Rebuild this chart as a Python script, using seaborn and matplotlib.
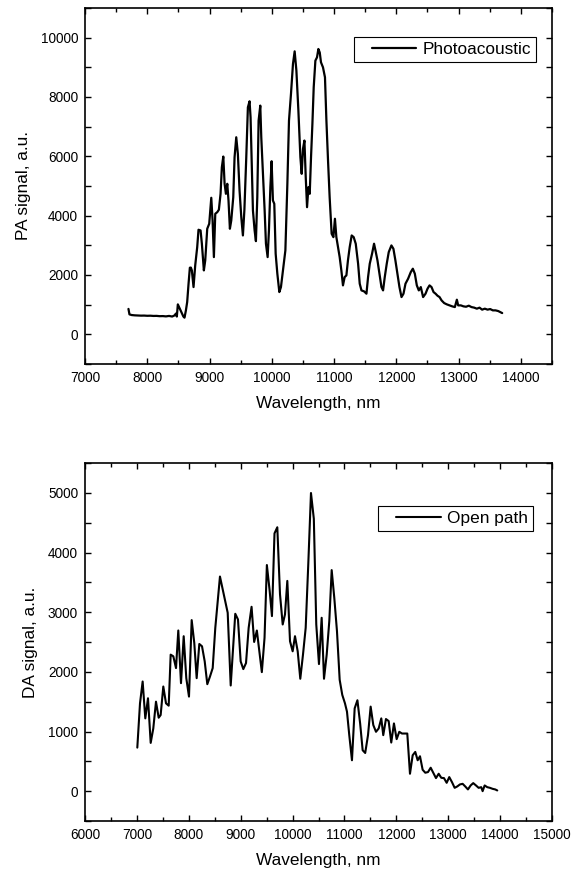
import numpy as np
import pandas as pd
import matplotlib
matplotlib.use("Agg")
import matplotlib.pyplot as plt
import seaborn as sns
from matplotlib.ticker import MultipleLocator
from matplotlib.legend_handler import HandlerLine2D
from matplotlib.lines import Line2D

# ---------------- data ----------------
pa_wavelength = [7698, 7714, 7750, 7800, 7850, 7900, 7950, 8000, 8050, 8100, 8150, 8200, 8250, 8300,
                 8350, 8400, 8440, 8460, 8475, 8491, 8515, 8534, 8560, 8580, 8598, 8620, 8641, 8663,
                 8684, 8700, 8716, 8743, 8770, 8802, 8823, 8856, 8877, 8909, 8931, 8963, 8995, 9028,
                 9049, 9070, 9092, 9124, 9150, 9177, 9198, 9221, 9242, 9263, 9285, 9305, 9327, 9349,
                 9381, 9402, 9429, 9455, 9482, 9510, 9536, 9560, 9590, 9616, 9643, 9659, 9675, 9697,
                 9724, 9745, 9767, 9788, 9815, 9831, 9858, 9885, 9906, 9933, 9954, 9977, 9997, 10018,
                 10040, 10062, 10089, 10121, 10147, 10179, 10218, 10250, 10276, 10308, 10340, 10367,
                 10395, 10427, 10459, 10480, 10501, 10524, 10545, 10566, 10588, 10609, 10630, 10652,
                 10673, 10700, 10726, 10748, 10770, 10790, 10822, 10854, 10877, 10903, 10929, 10961,
                 10989, 11014, 11037, 11063, 11090, 11117, 11143, 11170, 11198, 11223, 11251, 11283,
                 11315, 11348, 11386, 11412, 11440, 11482, 11520, 11546, 11573, 11610, 11642, 11665,
                 11697, 11729, 11761, 11787, 11814, 11846, 11878, 11921, 11953, 11985, 12018, 12050,
                 12083, 12115, 12147, 12189, 12232, 12265, 12297, 12329, 12361, 12393, 12430, 12469,
                 12501, 12533, 12565, 12598, 12630, 12662, 12694, 12726, 12768, 12811, 12855, 12897,
                 12940, 12972, 12993, 13036, 13079, 13120, 13164, 13207, 13250, 13293, 13336, 13378,
                 13421, 13465, 13507, 13550, 13593, 13636, 13668, 13700]
pa_signal = [857, 673, 650, 640, 635, 630, 632, 625, 628, 620, 622, 612, 615, 605,
             620, 600, 640, 700, 600, 1010, 900, 808, 700, 600, 562, 800, 1088, 1707,
             2246, 2250, 2155, 1593, 2323, 2939, 3525, 3502, 3054, 2155, 2492, 3559, 3727, 4603,
             3838, 2603, 4064, 4118, 4200, 4737, 5633, 5993, 5074, 4737, 5074, 4500, 3559, 3838,
             4623, 5970, 6643, 6084, 4848, 3949, 3333, 4200, 5970, 7653, 7855, 7316, 5970, 4175,
             3502, 3141, 4623, 7205, 7710, 6643, 5410, 4175, 3054, 2603, 3502, 4960, 5835, 4512,
             4400, 2717, 2044, 1424, 1593, 2155, 2828, 5074, 7205, 8104, 9114, 9539,
             8889, 7542, 5970, 5410, 6252, 6532, 5297, 4286, 4960, 4737, 5970, 7094,
             8327, 9226, 9337, 9619, 9500, 9169, 9000, 8664, 7205, 5859, 4623, 3390,
             3276, 3896, 3276, 2939, 2603, 2155, 1650, 1929, 1987, 2492, 2939, 3333,
             3276, 3054, 2380, 1707, 1481, 1448, 1370, 1929, 2380, 2717, 3054, 2828,
             2492, 2044, 1593, 1481, 1929, 2380, 2771, 2997, 2885, 2492, 2044, 1593,
             1256, 1370, 1707, 1875, 2098, 2212, 2044, 1650, 1481, 1593, 1256, 1370,
             1539, 1650, 1593, 1424, 1370, 1300, 1256, 1145, 1054, 1010, 976, 943,
             919, 1168, 976, 976, 943, 930, 966, 919, 900, 865, 899, 832,
             865, 832, 852, 808, 808, 785, 751, 717]

da_wavelength = [7008, 7060, 7111, 7162, 7214, 7266, 7316, 7368, 7420, 7458, 7509, 7561, 7613, 7651,
                 7702, 7754, 7798, 7850, 7902, 7952, 8004, 8056, 8106, 8152, 8203, 8255, 8307, 8357,
                 8409, 8461, 8511, 8601, 8750, 8808, 8896, 8948, 9000, 9051, 9103, 9154, 9210, 9260,
                 9312, 9359, 9408, 9460, 9505, 9559, 9603, 9652, 9706, 9758, 9810, 9854, 9899, 9951,
                 10002, 10047, 10099, 10149, 10201, 10253, 10303, 10355, 10410, 10457, 10509, 10561,
                 10606, 10658, 10708, 10754, 10804, 10856, 10908, 10958, 11010, 11049, 11093, 11145,
                 11197, 11250, 11303, 11351, 11400, 11454, 11505, 11556, 11608, 11660, 11710, 11748,
                 11800, 11852, 11902, 11954, 12006, 12057, 12109, 12161, 12211, 12263, 12315, 12365,
                 12411, 12456, 12507, 12558, 12610, 12662, 12712, 12764, 12816, 12866, 12918, 12970,
                 13020, 13072, 13124, 13174, 13226, 13278, 13328, 13380, 13432, 13482, 13535, 13586,
                 13636, 13663, 13702, 13752, 13804, 13856, 13906, 13945]
da_signal = [730, 1472, 1838, 1220, 1557, 809, 1051, 1500, 1231, 1276, 1754, 1472, 1433, 2288,
             2260, 2063, 2693, 1810, 2597, 1894, 1585, 2867, 2484, 1894, 2467, 2428, 2175, 1793,
             1922, 2063, 2737, 3597, 2990, 1771, 2973, 2878, 2175, 2046, 2147, 2737, 3090, 2501,
             2693, 2344, 1995, 2570, 3790, 3356, 2934, 4320, 4423, 3300, 2794, 2962, 3524, 2513,
             2344, 2597, 2344, 1884, 2288, 2737, 3806, 4997, 4565, 2794, 2130, 2906,
             1884, 2288, 2850, 3705, 3243, 2681, 1867, 1614, 1472, 1332, 939, 518,
             1388, 1524, 1130, 686, 640, 939, 1417, 1108, 995, 1051, 1220, 939,
             1209, 1175, 815, 1135, 872, 995, 966, 966, 966, 292, 602, 658,
             518, 585, 359, 309, 320, 393, 309, 219, 292, 224, 219, 140,
             236, 152, 56, 79, 113, 123, 79, 29, 96, 135, 96, 56,
             67, 0, 96, 67, 56, 39, 29, 12]

pa_label = "Photoacoustic"
da_label = "Open path"
x_label = "Wavelength, nm"
pa_ylabel = "PA signal, a.u."
da_ylabel = "DA signal, a.u."

# ---------------- style ----------------
sns.set_theme(style="ticks")
plt.rcParams["font.family"] = ["Liberation Sans", "DejaVu Sans"]
plt.rcParams["axes.edgecolor"] = "black"
plt.rcParams["text.color"] = "black"
plt.rcParams["axes.labelcolor"] = "black"
plt.rcParams["xtick.color"] = "black"
plt.rcParams["ytick.color"] = "black"

fig = plt.figure(figsize=(5.71, 8.71), dpi=100)
W, H = 571.0, 871.0
ax1 = fig.add_axes([85 / W, (H - 364) / H, 467 / W, 356 / H])
ax2 = fig.add_axes([85 / W, (H - 821) / H, 467 / W, 358 / H])

df_pa = pd.DataFrame({"wavelength": pa_wavelength, "signal": pa_signal})
df_da = pd.DataFrame({"wavelength": da_wavelength, "signal": da_signal})

sns.lineplot(data=df_pa, x="wavelength", y="signal", ax=ax1, color="black",
             linewidth=1.6, estimator=None, sort=False, label=pa_label)
sns.lineplot(data=df_da, x="wavelength", y="signal", ax=ax2, color="black",
             linewidth=1.5, estimator=None, sort=False, label=da_label)


def style_axes(ax, xlim, ylim, xmaj, xmin, ymaj, ymin, ylabel, leg_anchor):
    ax.set_xlim(*xlim)
    ax.set_ylim(*ylim)
    ax.xaxis.set_major_locator(MultipleLocator(xmaj))
    ax.xaxis.set_minor_locator(MultipleLocator(xmin))
    ax.yaxis.set_major_locator(MultipleLocator(ymaj))
    ax.yaxis.set_minor_locator(MultipleLocator(ymin))
    ax.tick_params(which="both", direction="in", top=True, right=True, width=1.0)
    ax.tick_params(which="major", length=4.6, labelsize=9.8, pad=5)
    ax.tick_params(axis="x", which="minor", length=2.8)
    ax.tick_params(axis="y", which="minor", length=4.6)
    for s in ax.spines.values():
        s.set_linewidth(1.2)
        s.set_color("black")
        s.set_visible(True)
    ax.set_xlabel(x_label, fontsize=12.4, labelpad=8)
    ax.set_ylabel(ylabel, fontsize=12.4, labelpad=7)
    leg = ax.legend(loc="upper right", bbox_to_anchor=leg_anchor, borderaxespad=0,
                    frameon=True, fancybox=False, edgecolor="black", framealpha=1,
                    fontsize=12.4, handlelength=3.35, handletextpad=0.35, borderpad=0.3,
                    handler_map={Line2D: HandlerLine2D(xpad=0.75)})
    leg.get_frame().set_linewidth(0.8)


style_axes(ax1, (7000, 14500), (-1000, 11000), 1000, 500, 2000, 1000, pa_ylabel, (0.966, 0.919))
style_axes(ax2, (6000, 15000), (-500, 5500), 1000, 500, 1000, 500, da_ylabel, (0.960, 0.880))

fig.savefig("out.png", dpi=100)
